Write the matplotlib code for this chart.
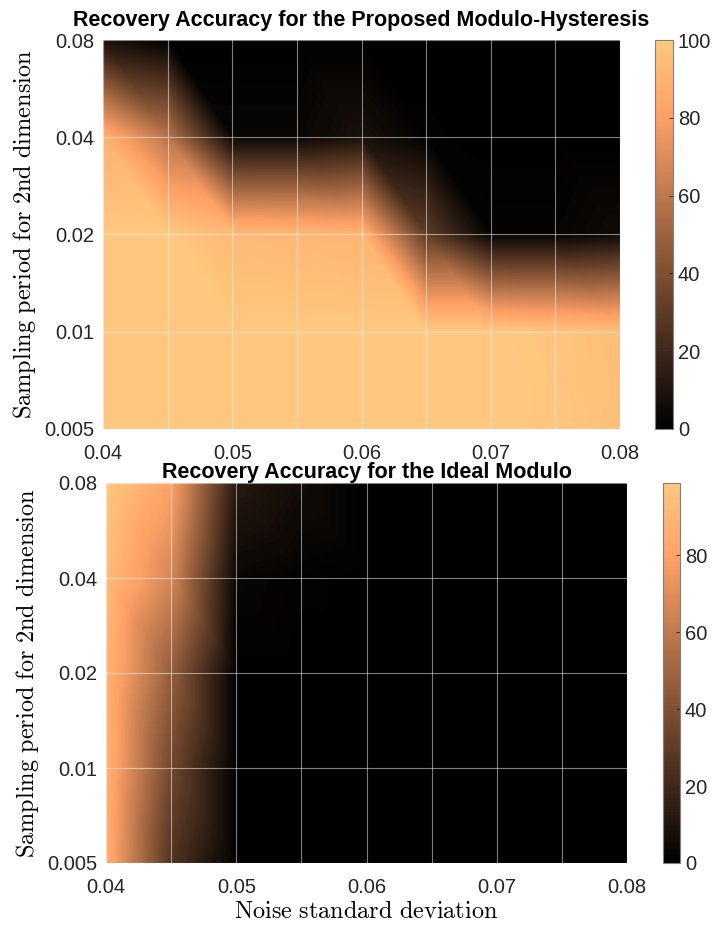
import numpy as np
import matplotlib
matplotlib.use("Agg")
import matplotlib.pyplot as plt
import matplotlib.tri as mtri
from matplotlib.ticker import MultipleLocator

plt.rcParams['font.family'] = ['Liberation Sans', 'DejaVu Sans']
plt.rcParams['mathtext.fontset'] = 'cm'

# noise std (x) and sampling period (y, shown on an evenly spaced axis)
noise_std = [0.04, 0.045, 0.05, 0.055, 0.06, 0.065, 0.07, 0.075, 0.08]
period_labels = ['0.005', '0.01', '0.02', '0.04', '0.08']

# recovery accuracy (%), rows follow period_labels, columns follow noise_std
acc_hysteresis = [
    [100, 100, 100, 100, 100, 100, 100, 99, 96],
    [100, 100, 100, 100, 100, 100, 100, 98, 95],
    [100, 100, 93, 92, 90, 30, 2, 2, 5],
    [89, 58, 3, 3, 8, 1, 0, 0, 0],
    [8, 0, 0, 0, 0, 0, 0, 0, 0],
]
acc_ideal = [
    [86, 25, 0, 0, 0, 0, 0, 0, 0],
    [88, 35, 0, 0, 0, 0, 0, 0, 0],
    [89, 46, 0, 0, 0, 0, 0, 0, 0],
    [93, 66, 3, 1, 0, 0, 0, 0, 0],
    [98.7, 80, 12, 6, 0, 0, 0, 0, 0],
]

W, H = 714, 927
fig = plt.figure(figsize=(W / 100, H / 100), dpi=100)


def rect(x0, x1, y0, y1):
    return [x0 / W, 1 - y1 / H, (x1 - x0) / W, (y1 - y0) / H]


def grid_triangulation(nx, ny, xs):
    X, Y = np.meshgrid(xs, np.arange(ny))
    tris = []
    for j in range(ny - 1):
        for i in range(nx - 1):
            bl = j * nx + i
            br = bl + 1
            tl = bl + nx
            tr = tl + 1
            # split along top-left / bottom-right diagonal
            tris.append([bl, br, tl])
            tris.append([tl, br, tr])
    return mtri.Triangulation(X.ravel(), Y.ravel(), np.array(tris))


def draw_panel(ax_rect, cb_rect, data, title, title_pad, xlabel=None):
    ax = fig.add_axes(ax_rect)
    cax = fig.add_axes(cb_rect)
    Z = np.array(data, dtype=float)
    tri = grid_triangulation(len(noise_std), len(period_labels), noise_std)
    zmax = Z.max()
    levels = np.linspace(Z.min(), zmax * 1.0005, 150)
    cs = ax.tricontourf(tri, Z.ravel(), levels=levels, cmap='copper')
    ax.set_xlim(noise_std[0], noise_std[-1])
    ax.set_ylim(0, len(period_labels) - 1)
    ax.set_xticks([0.04, 0.05, 0.06, 0.07, 0.08])
    ax.set_xticklabels(['0.04', '0.05', '0.06', '0.07', '0.08'])
    ax.xaxis.set_minor_locator(MultipleLocator(0.005))
    ax.set_yticks(np.arange(len(period_labels)))
    ax.set_yticklabels(period_labels)
    ax.grid(True, which='both', color='white', alpha=0.5, lw=0.8)
    ax.set_axisbelow(False)
    ax.tick_params(which='both', length=0, labelsize=14.5, colors='#262626')
    ax.tick_params(axis='x', pad=10.5)
    ax.tick_params(axis='y', pad=6)
    for s in ax.spines.values():
        s.set_visible(False)
    ax.set_title(title, fontsize=15.5, fontweight='bold', pad=title_pad)
    ax.set_ylabel(r'$\mathrm{Sampling\ period\ for\ 2nd\ dimension}$', fontsize=17.5, labelpad=5)
    if xlabel:
        ax.set_xlabel(xlabel, fontsize=17.5, labelpad=3)

    cb = fig.colorbar(cs, cax=cax)
    cb.set_ticks([t for t in [0, 20, 40, 60, 80, 100] if t <= zmax])
    cb.ax.tick_params(labelsize=14.5, colors='#262626', direction='in', length=3, width=0.6)
    cb.outline.set_edgecolor('#808080')
    cb.outline.set_linewidth(0.8)
    return ax


draw_panel(rect(103, 620, 40, 429), rect(655, 673, 40, 429), acc_hysteresis,
           'Recovery Accuracy for the Proposed Modulo-Hysteresis', 10)
draw_panel(rect(106, 627, 483, 863), rect(663, 680, 483, 863), acc_ideal,
           'Recovery Accuracy for the Ideal Modulo', 3,
           xlabel=r'$\mathrm{Noise\ standard\ deviation}$')

fig.savefig('out.png', dpi=100)
